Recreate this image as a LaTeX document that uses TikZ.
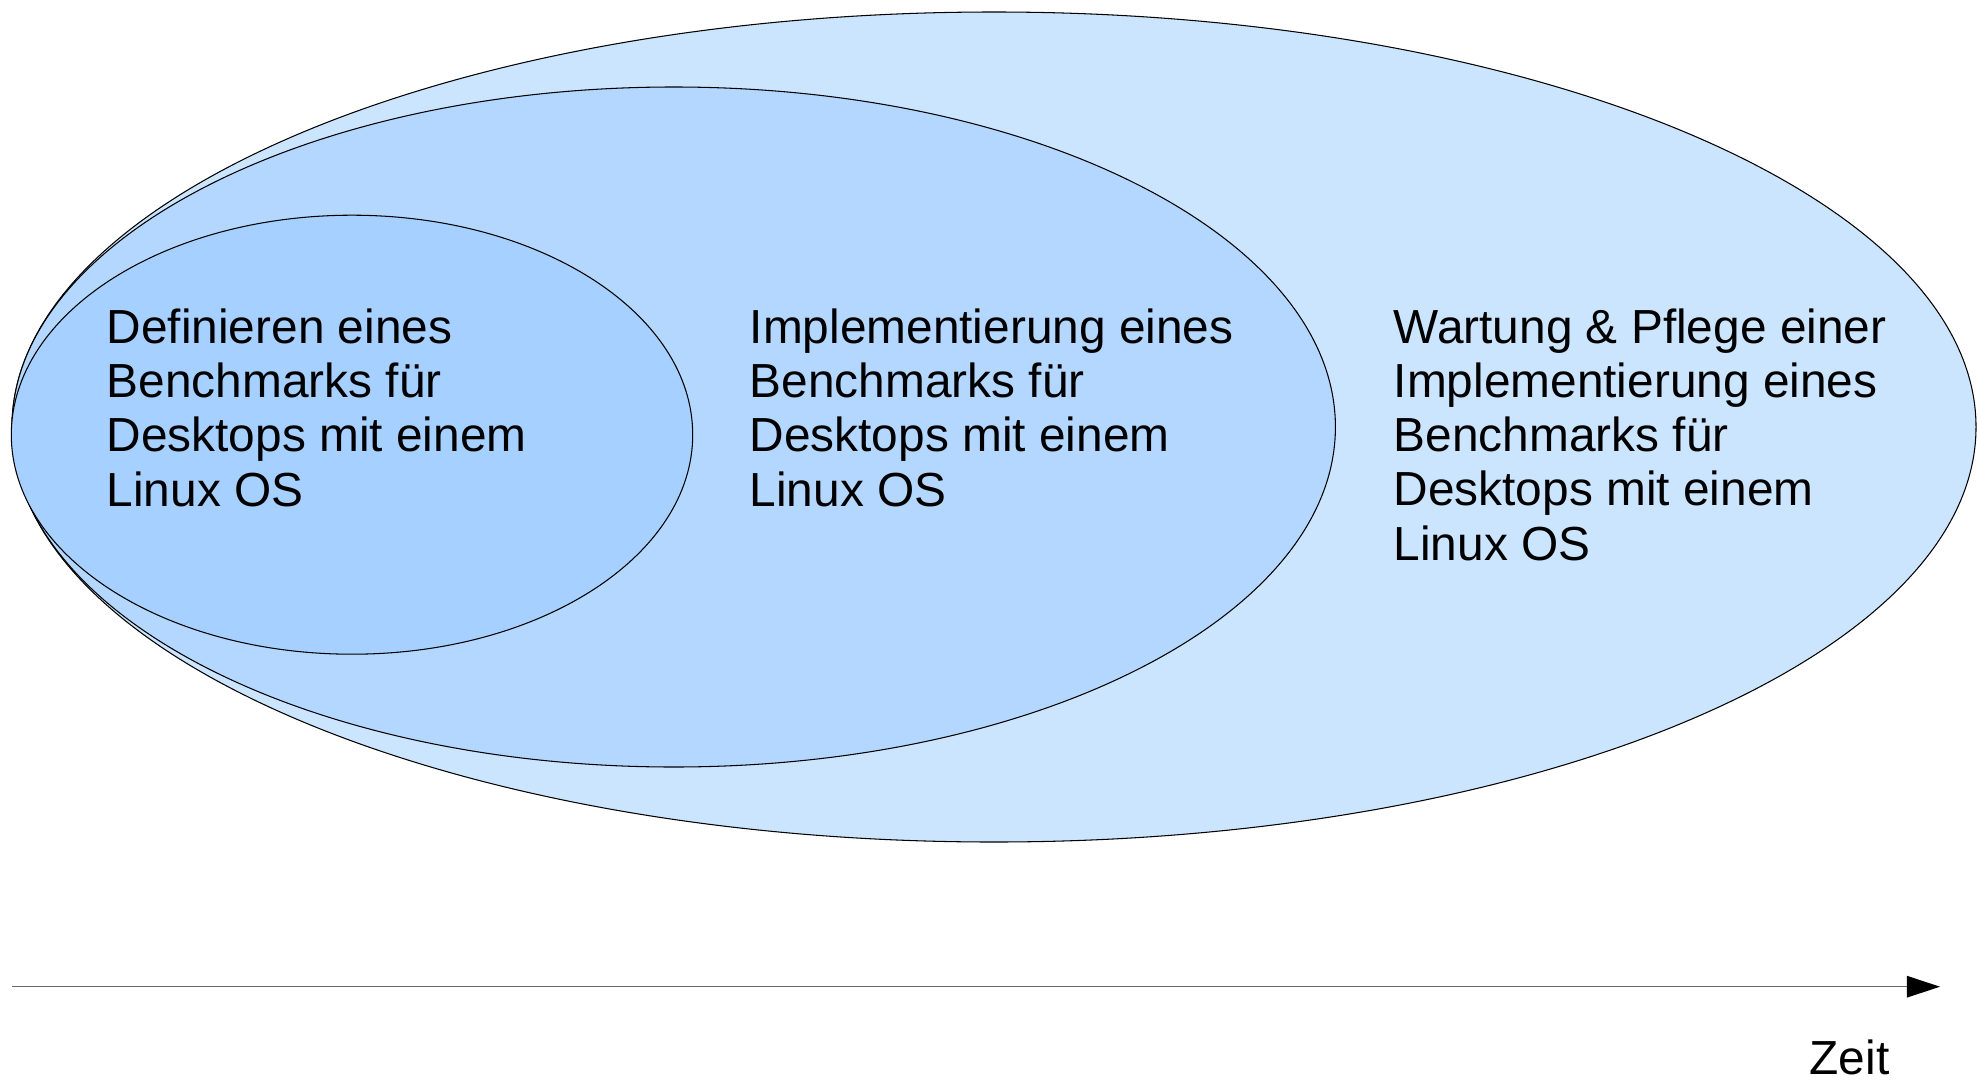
\documentclass[tikz,border=0pt]{standalone}
\usepackage{fontspec}
\setmainfont{Liberation Sans}
\usetikzlibrary{arrows.meta}
\definecolor{phaseOuter}{RGB}{204,229,255}
\definecolor{phaseMid}{RGB}{179,215,255}
\definecolor{phaseInner}{RGB}{166,208,255}
\tikzset{
    x=0.01cm, y=-0.01cm,
    phase/.style={draw=black, line width=0.3pt},
    phasetext/.style={anchor=base west, inner sep=0pt, align=left,
        font=\fontsize{13.6}{15.36}\selectfont},
    timeline/.style={draw=gray!80!black, line width=0.4pt,
        -{Triangle[length=9.4pt,width=6.1pt,black]}}
}

\begin{document}
\begin{tikzpicture}
        \useasboundingbox (0,0) rectangle (1977,1079);
        % phasen als ellipsen
        \draw[phase, fill=phaseOuter] (994,427) ellipse [x radius=982, y radius=415];
        \draw[phase, fill=phaseMid] (673.7,427) ellipse [x radius=661.7, y radius=340];
        \draw[phase, fill=phaseInner] (352,434.7) ellipse [x radius=340.7, y radius=219.5];

        % base west = grundlinie der letzten zeile
        \node[phasetext] (definition) at (106,506) {Definieren eines\\Benchmarks für\\Desktops mit einem\\Linux OS};
        \node[phasetext] (implementierung) at (749,506) {Implementierung eines\\Benchmarks für\\Desktops mit einem\\Linux OS};
        \node[phasetext] (wartung) at (1393,560) {Wartung \& Pflege einer\\Implementierung eines\\Benchmarks für\\Desktops mit einem\\Linux OS};

        % zeitachse
        \coordinate (zeitStart) at (12,986.7);
        \coordinate (zeitEnde) at (1940,986.7);
        \draw[timeline] (zeitStart) -- (zeitEnde);
        \node[phasetext] (zeit) at (1809,1074) {Zeit};
    \end{tikzpicture}
\end{document}
